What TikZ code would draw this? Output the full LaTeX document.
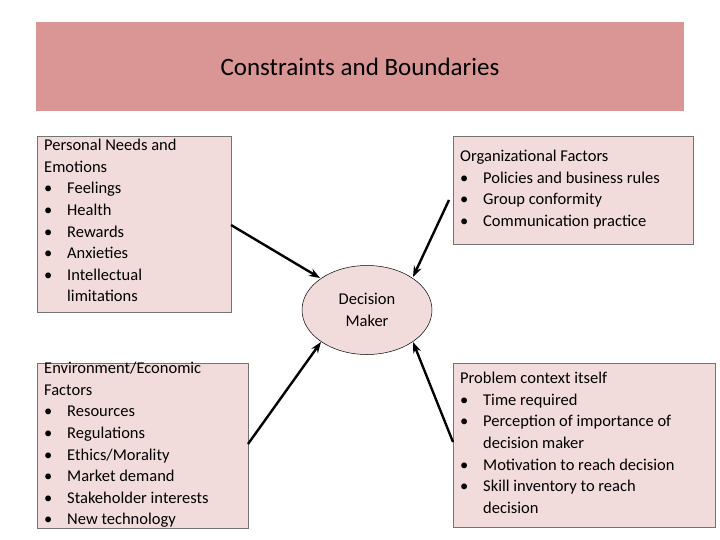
\documentclass[tikz,border=0pt]{standalone}
\usepackage{fontspec}
\setmainfont{Carlito}
\usetikzlibrary{arrows.meta,shapes.geometric}
\definecolor{titlefill}{HTML}{D99694}
\definecolor{boxfill}{HTML}{F2DCDB}
\newcommand{\bl}{\makebox[23pt][l]{•}}
\newcommand{\ind}{\hspace*{23pt}}
\begin{document}
\begin{tikzpicture}[x=1pt,y=-1pt,
  box/.style={draw=black!55, fill=boxfill, line width=0.6pt, anchor=north west, inner sep=0pt},
  txt/.style={anchor=north west, align=left, inner sep=0pt, font=\fontsize{16.5}{21.6}\selectfont},
  arr/.style={-{Stealth[length=11pt,width=8pt]}, line width=2.4pt}]
\useasboundingbox (0,0) rectangle (720,540);
\node[draw=none, fill=titlefill, anchor=north west, minimum width=648pt, minimum height=89pt, inner sep=0pt] (title) at (36,22) {};
\node[font=\fontsize{25}{30}\selectfont] (tt) at (360,67) {Constraints and Boundaries};
\node[box, minimum width=194pt, minimum height=176pt] (b1) at (37,136) {};
\node[txt] (t1) at (44,139) {Personal Needs and\\Emotions\\\bl Feelings\\\bl Health\\\bl Rewards\\\bl Anxieties\\\bl Intellectual\\\ind limitations};
\node[box, minimum width=211pt, minimum height=165pt] (b2) at (37,363) {};
\node[txt] (t2) at (44,362) {Environment/Economic\\Factors\\\bl Resources\\\bl Regulations\\\bl Ethics/Morality\\\bl Market demand\\\bl Stakeholder interests\\\bl New technology};
\node[box, minimum width=240pt, minimum height=108pt] (b3) at (453,136) {};
\node[txt] (t3) at (460,150) {Organizational Factors\\\bl Policies and business rules\\\bl Group conformity\\\bl Communication practice};
\node[box, minimum width=262pt, minimum height=164pt] (b4) at (453,363) {};
\node[txt] (t4) at (460,372) {Problem context itself\\\bl Time required\\\bl Perception of importance of\\\ind decision maker\\\bl Motivation to reach decision\\\bl Skill inventory to reach\\\ind decision};
\node[draw=black, fill=boxfill, ellipse, line width=0.5pt, minimum width=130pt, minimum height=89pt, align=center, inner sep=0pt, font=\fontsize{16.5}{21.6}\selectfont] (dm) at (367,310) {Decision\\Maker};
\coordinate (s1) at (231,225);
\coordinate (s3) at (449,200);
\coordinate (s2) at (248,444);
\coordinate (s4) at (453,442);
\draw[arr] (s1) -- (320,278);
\draw[arr] (s3) -- (413,277);
\draw[arr] (s2) -- (321,342);
\draw[arr] (s4) -- (413,342);
\end{tikzpicture}
\end{document}
